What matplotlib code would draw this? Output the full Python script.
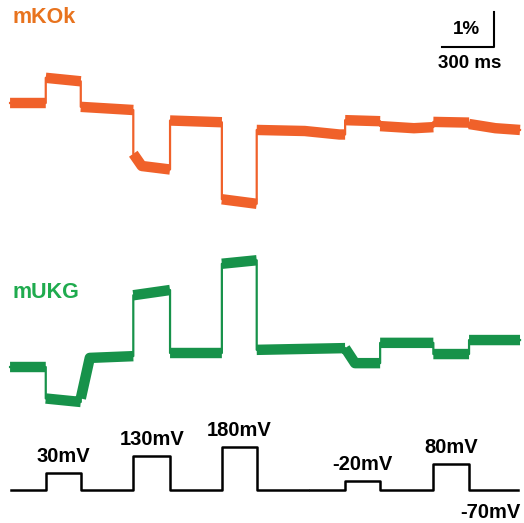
import matplotlib.pyplot as plt
import numpy as np

# mKOk trace: time (ms) vs dF/F (%)
orange_t = [0, 206, 206, 408, 408, 711, 711, 760, 923, 923, 1222, 1222, 1423,
            1423, 1700, 1900, 1933, 1933, 2135, 2135, 2330, 2442, 2442, 2648,
            2648, 2800, 2942]
orange_v = [0.0, 0.0, 0.72, 0.62, -0.11, -0.2, -1.45, -1.8, -1.9, -0.5, -0.55,
            -2.75, -2.88, -0.77, -0.8, -0.9, -0.9, -0.49, -0.52, -0.66, -0.72,
            -0.69, -0.54, -0.56, -0.6, -0.72, -0.77]

# mUKG trace
green_t = [0, 206, 206, 408, 408, 460, 711, 711, 923, 923, 1222, 1222, 1423,
           1423, 1933, 1933, 1990, 2135, 2135, 2442, 2442, 2648, 2648, 2942]
green_v = [0.0, 0.0, -0.9, -1.0, -0.9, 0.26, 0.31, 2.05, 2.2, 0.4, 0.4, 2.95,
           3.05, 0.49, 0.54, 0.54, 0.11, 0.11, 0.69, 0.69, 0.37, 0.37, 0.77, 0.77]

# voltage protocol (mV)
holding = -70
pulse_start = [206, 711, 1222, 1933, 2442]
pulse_end = [408, 923, 1423, 2135, 2648]
pulse_mv = [30, 130, 180, -20, 80]
pulse_labels = ['30mV', '130mV', '180mV', '-20mV', '80mV']
protocol_start, protocol_end = 6, 2931

scale_pct = 1
scale_ms = 300

orange = '#f0612a'
orange_lbl = '#e8731e'
green = '#17924a'
green_lbl = '#1fab4e'

plt.rcParams['font.family'] = ['Liberation Sans', 'DejaVu Sans']

fig = plt.figure(figsize=(5.24, 5.23), dpi=100)

xlim = (-58, 2965)
ax_o = fig.add_axes([0, 0, 1, 1])
ax_g = fig.add_axes([0, 0, 1, 1])
ax_v = fig.add_axes([0, 0, 1, 1])
for ax in (ax_o, ax_g, ax_v):
    ax.set_xlim(*xlim)
    ax.axis('off')
    ax.patch.set_alpha(0)

# 1% = 35 px, baselines at y=103 px and y=367 px from top
ax_o.set_ylim((103 - 523) / 35, 103 / 35)
ax_g.set_ylim((367 - 523) / 35, 367 / 35)
ax_v.set_ylim(holding - (523 - 490) / 0.172, holding + 490 / 0.172)


# trace: thin line for jumps, thick band for the noisy plateaus
def draw_trace(ax, t, v, color):
    t = np.asarray(t, float)
    v = np.asarray(v, float)
    ax.plot(t, v, color=color, lw=1.6)
    tt, vv = [t[0]], [v[0]]
    for i in range(1, len(t)):
        if t[i] == t[i - 1]:
            tt.append(np.nan)
            vv.append(np.nan)
        tt.append(t[i])
        vv.append(v[i])
    ax.plot(tt, vv, color=color, lw=7.5, solid_capstyle='butt',
            solid_joinstyle='round')


draw_trace(ax_o, orange_t, orange_v, orange)
draw_trace(ax_g, green_t, green_v, green)

ax_o.text(12, 2.43, 'mKOk', color=orange_lbl, fontsize=15.5,
          fontweight='bold', va='center', ha='left')
ax_g.text(12, 2.14, 'mUKG', color=green_lbl, fontsize=15.5,
          fontweight='bold', va='center', ha='left')

# protocol, with small break in the baseline
vt, vv = [protocol_start], [holding]
for s, e, mv in zip(pulse_start, pulse_end, pulse_mv):
    vt += [s, s, e, e]
    vv += [holding, mv, mv, holding]
vt.append(protocol_end)
vv.append(holding)
vt, vv = np.array(vt, float), np.array(vv, float)
brk = 1725
cut = np.searchsorted(vt, brk)
ax_v.plot(np.r_[vt[:cut], brk - 4], np.r_[vv[:cut], holding],
          color='black', lw=1.8)
ax_v.plot(np.r_[brk + 4, vt[cut:]], np.r_[holding, vv[cut:]],
          color='black', lw=1.8)

for s, e, mv, lab in zip(pulse_start, pulse_end, pulse_mv, pulse_labels):
    ax_v.annotate(lab, ((s + e) / 2, mv), xytext=(0, 5),
                  textcoords='offset points', ha='center', va='bottom',
                  fontsize=14.5, fontweight='bold')
ax_v.annotate('-70mV', (protocol_end, holding), xytext=(2, -16),
              textcoords='offset points', ha='right', va='center',
              fontsize=14.5, fontweight='bold')

# scale bar
sx, sy = 2792, 1.6
ax_o.plot([sx - scale_ms, sx, sx], [sy, sy, sy + scale_pct], color='black',
          lw=1.5)
ax_o.text(sx - 160, sy + 0.49, '1%', ha='center', va='center',
          fontsize=13.5, fontweight='bold')
ax_o.text(sx - 140, sy - 0.46, '300 ms', ha='center', va='center',
          fontsize=13.5, fontweight='bold')

fig.savefig('out.png', dpi=100)
